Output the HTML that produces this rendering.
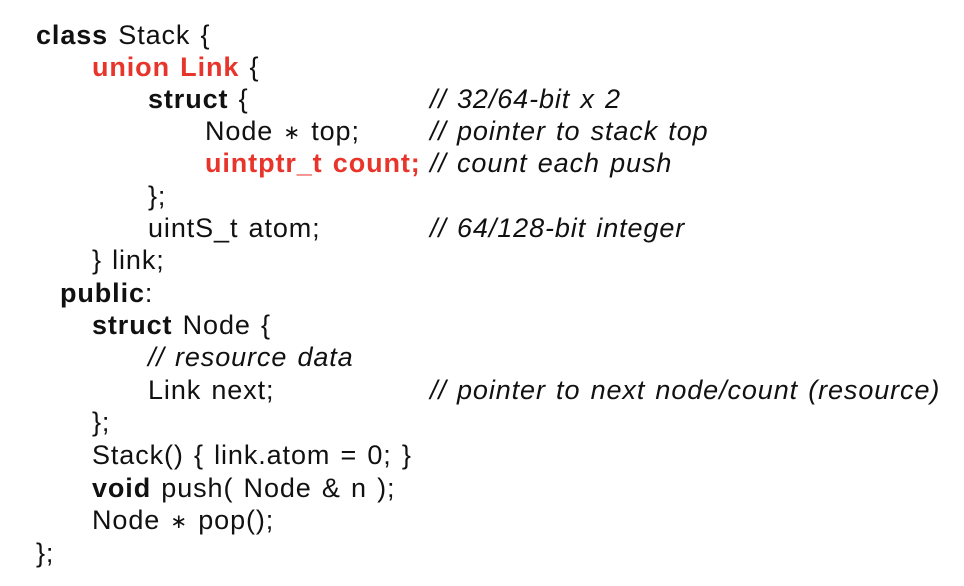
<!DOCTYPE html>
<html><head><meta charset="utf-8"><style>
html,body{margin:0;padding:0;background:#fff;}
body{width:964px;height:586px;position:relative;overflow:hidden;font-family:"Liberation Sans",Arial,sans-serif;font-size:27px;color:#111;letter-spacing:0.9px;word-spacing:1.8px;}
.l{position:absolute;line-height:32px;white-space:pre;}
b{font-weight:bold;}
.r{color:#e8352b;font-weight:bold;}
i{font-style:italic;}
.st{font-size:20px;position:relative;top:-1px;}
</style></head><body>
<div class="l" style="left:36px;top:19px"><b>class</b> Stack {</div>
<div class="l" style="left:92px;top:51px"><span class="r">union Link</span> {</div>
<div class="l" style="left:148px;top:83px"><b>struct</b> {</div>
<div class="l" style="left:430px;top:83px"><i>// 32/64-bit x 2</i></div>
<div class="l" style="left:205px;top:115px">Node <span class="st">∗</span> top;</div>
<div class="l" style="left:430px;top:115px"><i>// pointer to stack top</i></div>
<div class="l" style="left:205px;top:147px"><span class="r">uintptr_t count;</span></div>
<div class="l" style="left:430px;top:147px"><i>// count each push</i></div>
<div class="l" style="left:148px;top:180px">};</div>
<div class="l" style="left:148px;top:212px">uintS_t atom;</div>
<div class="l" style="left:430px;top:212px"><i>// 64/128-bit integer</i></div>
<div class="l" style="left:92px;top:244px">} link;</div>
<div class="l" style="left:60px;top:277px"><b>public</b>:</div>
<div class="l" style="left:92px;top:309px"><b>struct</b> Node {</div>
<div class="l" style="left:148px;top:341px"><i>// resource data</i></div>
<div class="l" style="left:148px;top:374px">Link next;</div>
<div class="l" style="left:430px;top:374px"><i>// pointer to next node/count (resource)</i></div>
<div class="l" style="left:92px;top:406px">};</div>
<div class="l" style="left:92px;top:439px">Stack() { link.atom = 0; }</div>
<div class="l" style="left:92px;top:472px"><b>void</b> push( Node &amp; n );</div>
<div class="l" style="left:92px;top:504px">Node <span class="st">∗</span> pop();</div>
<div class="l" style="left:36px;top:537px">};</div>
</body></html>
